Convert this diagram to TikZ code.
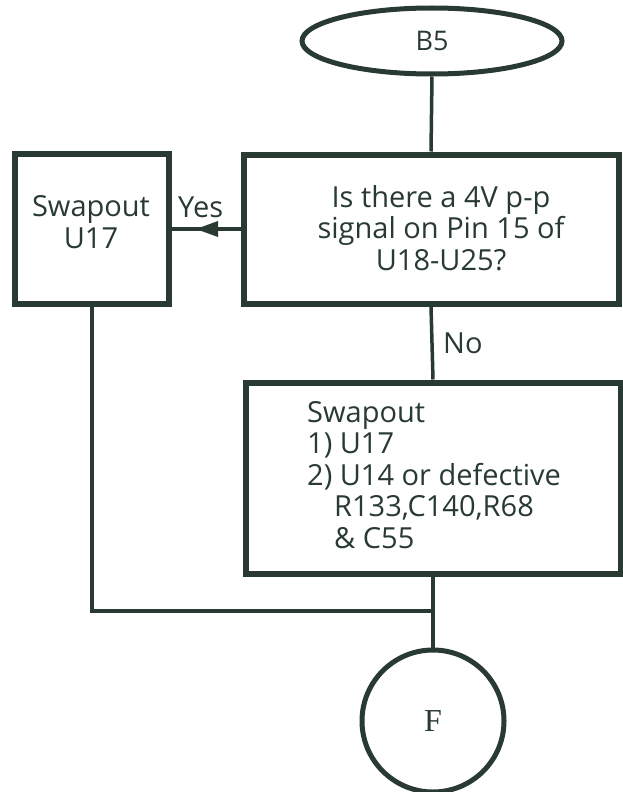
\documentclass[tikz,border=0pt]{standalone}
\usepackage{fontspec}
\setmainfont{Open Sans}
\newfontfamily\serifF{Liberation Serif}
\usetikzlibrary{shapes.geometric,arrows.meta}
\definecolor{ink}{RGB}{40,58,50}
\begin{document}
\begin{tikzpicture}[x=1pt,y=-1pt,
  every node/.style={text=ink},
  boxstyle/.style={draw=ink,line width=6pt,rectangle,inner sep=0pt},
  conn/.style={draw=ink,line width=3.5pt},
  txt/.style={font=\fontsize{29}{31.5}\selectfont,align=center,inner sep=0pt}]
\useasboundingbox (0,0) rectangle (623,792);
\fill[white] (0,0) rectangle (623,792);
% start ellipse
\node[ellipse,draw=ink,line width=5pt,minimum width=260pt,minimum height=66pt,inner sep=0pt,font=\fontsize{27}{30}\selectfont] (b5) at (432,41) {B5};
% question box
\node[boxstyle,minimum width=375pt,minimum height=149pt] (q) at (431,229) {};
\node[txt] (qt) at (441,228) {Is there a 4V p-p\\signal on Pin 15 of\\U18-U25?};
% left swapout box
\node[boxstyle,minimum width=154pt,minimum height=150pt] (sw) at (92,229) {};
\node[txt] (swt) at (91,222) {Swapout\\U17};
% second box
\node[boxstyle,minimum width=375pt,minimum height=191pt] (b2) at (433,478) {};
\node[txt,align=left,anchor=north west] (b2t) at (307,401) {Swapout\\1) U17\\2) U14 or defective\\\hspace*{27pt}R133,C140,R68\\\hspace*{27pt}\& C55};
% end circle
\node[circle,draw=ink,line width=5pt,minimum size=142pt,inner sep=0pt,font=\serifF\fontsize{32}{34}\selectfont] (f) at (433,721) {F};
% connectors
\draw[conn] (b5.south) -- (q.north);
\coordinate (tip) at (196,229);
\draw[conn] (q.west) -- (sw.east);
\fill[ink] (tip) -- ++(22,-8) -- ++(0,16) -- cycle;
\node[txt,anchor=west] (yes) at (178,207) {Yes};
\draw[conn] (q.south) -- (b2.north);
\node[txt,anchor=west] (no) at (443,343) {No};
\coordinate (j) at (433,611);
\draw[conn] (sw.south) |- (j);
\draw[conn] (b2.south) -- (f.north);
\end{tikzpicture}
\end{document}
